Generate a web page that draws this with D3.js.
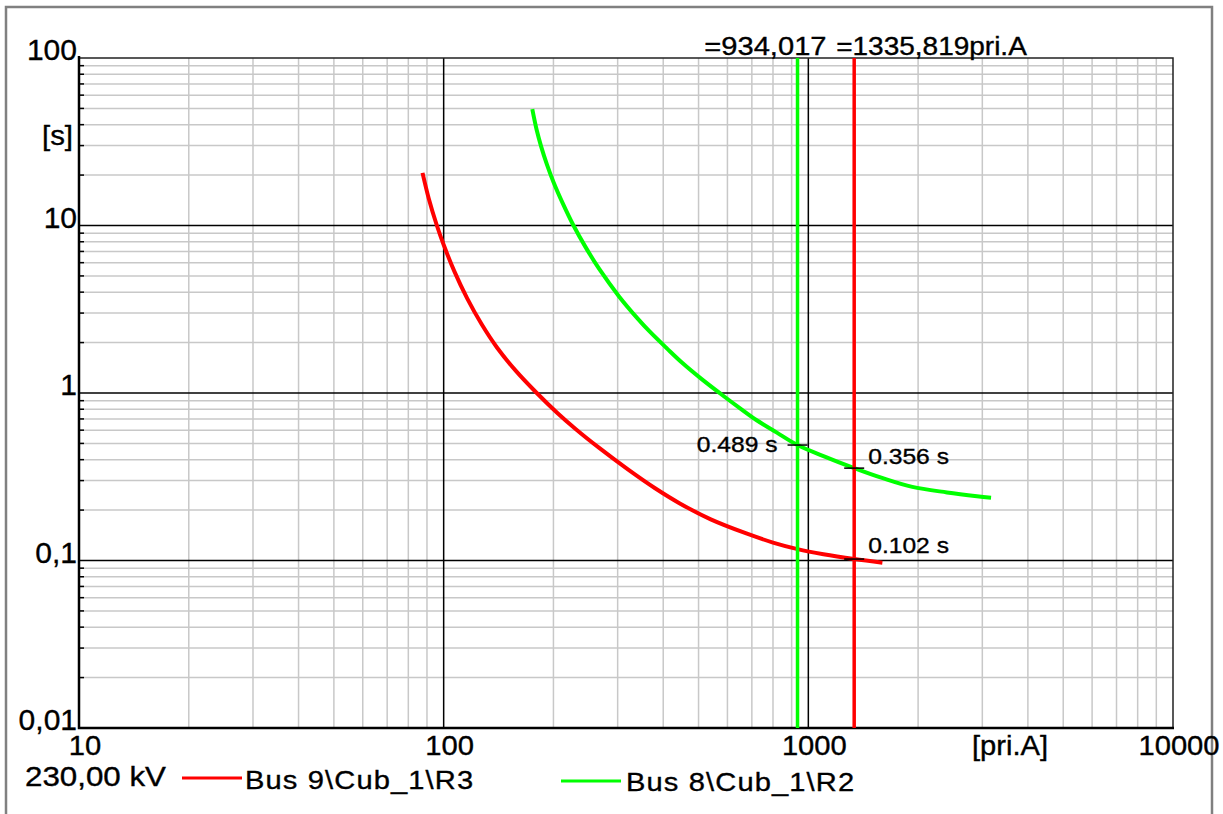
<!DOCTYPE html>
<html>
<head>
<meta charset="utf-8">
<script src="https://cdn.jsdelivr.net/npm/d3@7"></script>
<style>
  body { margin: 0; background: #fff; }
  text { font-family: "Liberation Sans", Arial, sans-serif; fill: #000; stroke: #000; stroke-width: 0.35px; }
</style>
</head>
<body>
<div id="chart"></div>
<script>
// tick labels
var xTickValues = [10, 100, 1000, 10000];
var xTickLabels = ["10", "100", "1000", "10000"];
var yTickValues = [0.01, 0.1, 1, 10, 100];
var yTickLabels = ["0,01", "0,1", "1", "10", "100"];

// relay curves, current [pri.A] and tripping time [s]
var redCurrent = [87.5, 91, 95.8, 100, 107, 116, 127, 140, 158, 180, 205, 230, 267, 320, 380, 443, 540, 676, 800, 934, 1100, 1336, 1596];
var redTime = [20.6, 14.5, 10, 7.67, 5.32, 3.67, 2.58, 1.87, 1.35, 1.0, 0.76, 0.61, 0.47, 0.35, 0.27, 0.22, 0.176, 0.145, 0.128, 0.117, 0.109, 0.102, 0.097];
var greenCurrent = [175, 180, 185, 192, 200, 212, 227, 245, 267, 303, 340, 367, 410, 450, 510, 578, 650, 720, 820, 934, 1100, 1336, 1600, 1928, 2400, 2900, 3170];
var greenTime = [49.5, 37, 29.7, 23.1, 18.2, 13.6, 10, 7.43, 5.5, 3.76, 2.79, 2.33, 1.84, 1.52, 1.21, 0.98, 0.81, 0.69, 0.58, 0.489, 0.42, 0.356, 0.31, 0.275, 0.255, 0.242, 0.237];

// fault current markers
var markerCurrent = [934.017, 1335.819];
var markerColor = ["#00ff00", "#ff0000"];
var markerLabels = ["=934,017", "=1335,819pri.A"];

// time readouts
var readCurrent = [934.017, 1335.819, 1335.819];
var readTime = [0.489, 0.356, 0.102];
var readLabels = ["0.489 s", "0.356 s", "0.102 s"];

var legendNames = ["Bus 9\\Cub_1\\R3", "Bus 8\\Cub_1\\R2"];

function addText(sel, x, y, str, size, anchor, sx){
    return sel.append("text")
        .attr("transform", "translate(" + x + "," + y + ") scale(" + (sx || 1.12) + ",1)")
        .attr("text-anchor", anchor || "start")
        .style("font-size", size + "px")
        .text(str);
}

function init(){

    var w = 1223;
    var h = 814;
    var left = 79, right = 1173, top = 58, bottom = 728;

    var svg = d3.select("#chart")
                .append("svg")
                .attr("width", w)
                .attr("height", h);

    // outer frame
    svg.append("rect")
        .attr("x", 6).attr("y", 7)
        .attr("width", 1206).attr("height", 900)
        .attr("fill", "none")
        .attr("stroke", "#808080")
        .attr("stroke-width", 2.5);

    var x = d3.scaleLog().domain([10, 10000]).range([left, right]);
    var y = d3.scaleLog().domain([0.01, 100]).range([bottom, top]);

    var isDecade = function(v){ return Math.abs(Math.log10(v) - Math.round(Math.log10(v))) < 1e-9; };
    var xMinor = x.ticks().filter(function(d){ return !isDecade(d); });
    var yMinor = y.ticks().filter(function(d){ return !isDecade(d); });

    // minor grid
    svg.append("g").selectAll("line")
        .data(xMinor)
        .enter().append("line")
        .attr("x1", function(d){ return x(d); }).attr("x2", function(d){ return x(d); })
        .attr("y1", top).attr("y2", bottom)
        .attr("stroke", "#c8c8c8").attr("stroke-width", 1.5);

    svg.append("g").selectAll("line")
        .data(yMinor)
        .enter().append("line")
        .attr("y1", function(d){ return y(d); }).attr("y2", function(d){ return y(d); })
        .attr("x1", left).attr("x2", right)
        .attr("stroke", "#c8c8c8").attr("stroke-width", 1.5);

    // small ticks on the left axis
    svg.append("g").selectAll("line")
        .data(yMinor)
        .enter().append("line")
        .attr("y1", function(d){ return y(d); }).attr("y2", function(d){ return y(d); })
        .attr("x1", left).attr("x2", left + 5)
        .attr("stroke", "#000").attr("stroke-width", 1.5);

    // decade grid
    svg.append("g").selectAll("line")
        .data(xTickValues.slice(1, -1))
        .enter().append("line")
        .attr("x1", function(d){ return x(d); }).attr("x2", function(d){ return x(d); })
        .attr("y1", top).attr("y2", bottom)
        .attr("stroke", "#000").attr("stroke-width", 1.5);

    svg.append("g").selectAll("line")
        .data(yTickValues.slice(1, -1))
        .enter().append("line")
        .attr("y1", function(d){ return y(d); }).attr("y2", function(d){ return y(d); })
        .attr("x1", left).attr("x2", right)
        .attr("stroke", "#000").attr("stroke-width", 1.5);

    // plot border
    svg.append("path")
        .attr("d", "M" + left + "," + top + "H" + right + "V" + bottom)
        .attr("fill", "none").attr("stroke", "#222").attr("stroke-width", 1.5);
    svg.append("path")
        .attr("d", "M" + left + "," + (top - 2) + "V" + bottom + "H" + (right + 1))
        .attr("fill", "none").attr("stroke", "#000").attr("stroke-width", 2.5);

    // curves
    var line = d3.line()
        .x(function(d){ return x(d[0]); })
        .y(function(d){ return y(d[1]); })
        .curve(d3.curveCatmullRom.alpha(0.5));

    svg.append("path")
        .datum(d3.zip(redCurrent, redTime))
        .attr("d", line)
        .attr("fill", "none").attr("stroke", "#ff0000").attr("stroke-width", 4);

    svg.append("path")
        .datum(d3.zip(greenCurrent, greenTime))
        .attr("d", line)
        .attr("fill", "none").attr("stroke", "#00ff00").attr("stroke-width", 4);

    // fault current lines
    svg.append("g").selectAll("line")
        .data(markerCurrent)
        .enter().append("line")
        .attr("x1", function(d){ return x(d); }).attr("x2", function(d){ return x(d); })
        .attr("y1", top).attr("y2", bottom)
        .attr("stroke", function(d, i){ return markerColor[i]; })
        .attr("stroke-width", 3.5);

    addText(svg, x(markerCurrent[0]) + 29, 55, markerLabels[0], 26, "end");
    addText(svg, x(markerCurrent[1]) - 18, 55, markerLabels[1], 25, "start");

    // readout ticks and labels
    svg.append("g").selectAll("line")
        .data(readTime)
        .enter().append("line")
        .attr("x1", function(d, i){ return x(readCurrent[i]) - 10; })
        .attr("x2", function(d, i){ return x(readCurrent[i]) + 10; })
        .attr("y1", function(d){ return y(d); }).attr("y2", function(d){ return y(d); })
        .attr("stroke", "#000").attr("stroke-width", 1.5);

    addText(svg, x(readCurrent[0]) - 20, y(readTime[0]) + 7, readLabels[0], 22, "end");
    addText(svg, x(readCurrent[1]) + 14, y(readTime[1]) - 4, readLabels[1], 22, "start");
    addText(svg, x(readCurrent[2]) + 14, y(readTime[2]) - 6, readLabels[2], 22, "start");

    // axis labels
    yTickValues.forEach(function(v, i){
        addText(svg, 77, y(v) + 2, yTickLabels[i], 30, "end", 1.0);
    });
    xTickValues.forEach(function(v, i){
        addText(svg, x(v) + 6, 755, xTickLabels[i], 27, "middle", 1.08);
    });
    addText(svg, 73, 145, "[s]", 28, "end", 1.05);
    addText(svg, 1010, 755, "[pri.A]", 27, "middle", 1.08);

    // legend
    addText(svg, 25, 786, "230,00 kV", 27, "start", 1.16);

    svg.append("line")
        .attr("x1", 182).attr("x2", 242).attr("y1", 778).attr("y2", 778)
        .attr("stroke", "#ff0000").attr("stroke-width", 3);
    addText(svg, 245, 789, legendNames[0], 26, "start").style("letter-spacing", "1px");

    svg.append("line")
        .attr("x1", 561).attr("x2", 621).attr("y1", 781).attr("y2", 781)
        .attr("stroke", "#00ff00").attr("stroke-width", 3);
    addText(svg, 626, 791, legendNames[1], 26, "start").style("letter-spacing", "1px");
}

window.onload = init;
</script>
</body>
</html>
